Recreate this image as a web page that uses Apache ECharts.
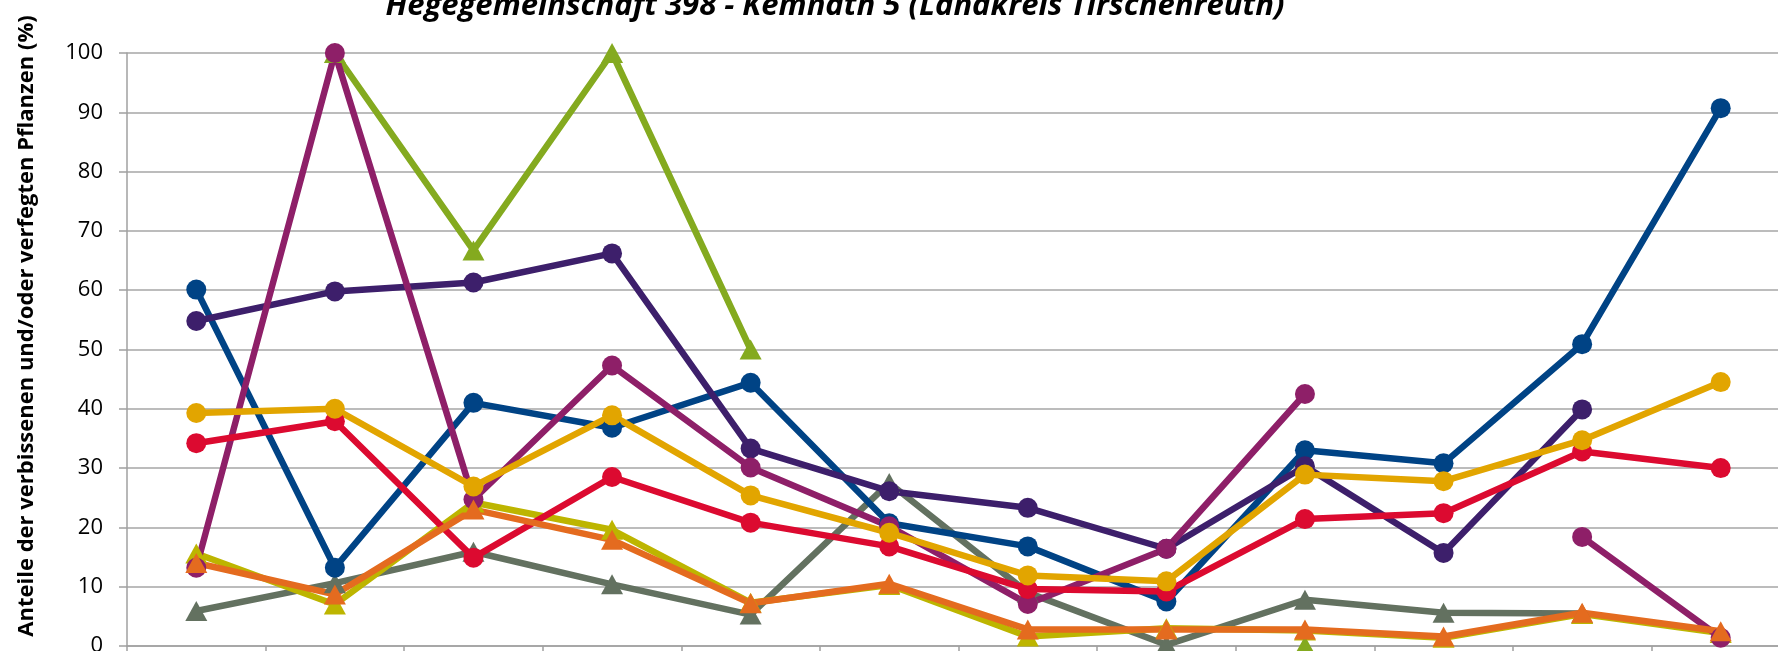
<!DOCTYPE html>
<html>
<head>
<meta charset="utf-8">
<script src="https://cdn.jsdelivr.net/npm/echarts@6/dist/echarts.min.js"></script>
<style>html,body{margin:0;padding:0;background:#fff}#c{width:1778px;height:651px}</style>
</head>
<body>
<div id="c"></div>
<script>
const categories = ['1991','1994','1997','2000','2003','2006','2009','2012','2015','2018','2021','2024'];
const yTicks = [0,10,20,30,40,50,60,70,80,90,100];
const blueVals      = [60.1, 13.2, 41.0, 36.8, 44.4, 20.7, 16.8, 7.5, 33.0, 30.8, 50.9, 90.7];
const purpleVals    = [54.8, 59.8, 61.3, 66.2, 33.3, 26.1, 23.3, 16.4, 30.3, 15.7, 39.9, null];
const magentaVals   = [13.2, 100, 24.7, 47.3, 30.1, 20.2, 7.1, 16.4, 42.5, null, 18.4, 1.4];
const redVals       = [34.2, 37.9, 14.9, 28.5, 20.8, 16.8, 9.6, 9.2, 21.4, 22.4, 32.8, 30.0];
const goldVals      = [39.3, 40.0, 26.9, 38.9, 25.4, 19.1, 11.9, 10.9, 28.9, 27.8, 34.7, 44.5];
const lightGreenVals= [null, 100, 66.7, 100, 50, null, null, null, 0, null, null, null];
const oliveVals     = [15.6, 7.0, 24.2, 19.6, 7.3, 10.3, 1.6, 3.0, 2.6, 1.4, 5.4, 2.2];
const grayVals      = [5.9, 10.6, 15.9, 10.4, 5.3, 27.5, 9.0, 0.2, 7.8, 5.6, 5.5, null];
const orangeVals    = [14.0, 8.7, 23.0, 17.9, 7.2, 10.5, 2.8, 2.8, 2.8, 1.6, 5.6, 2.5];

const titleText = 'Hegegemeinschaft 398 - Kemnath 5 (Landkreis Tirschenreuth)';
const yName = 'Anteile der verbissenen und/oder verfegten Pflanzen (%)';

function mk(name, data, color, sym) {
  return {
    name, type: 'line', data, connectNulls: false,
    symbol: sym, symbolSize: sym === 'triangle' ? [22, 20] : 20, showSymbol: true,
    lineStyle: { color, width: 6.5 }, itemStyle: { color },
    emphasis: { disabled: true }
  };
}

const chart = echarts.init(document.getElementById('c'), null, { renderer: 'canvas' });
chart.setOption({
  animation: false,
  backgroundColor: '#ffffff',
  title: {
    text: titleText, left: 830, textAlign: 'center', top: -14,
    textStyle: { fontFamily: 'Open Sans', fontStyle: 'italic', fontWeight: 'bold', fontSize: 31, color: '#000' }
  },
  graphic: [{
    type: 'text', x: 27, y: 326, rotation: Math.PI / 2,
    style: { text: yName, align: 'center', verticalAlign: 'middle', fontFamily: 'Open Sans', fontWeight: 'bold', fontSize: 22, fill: '#000' }
  }],
  grid: { left: 127, right: -12, top: 53, bottom: 5, containLabel: false, outerBoundsMode: 'none' },
  xAxis: {
    type: 'category', data: categories, boundaryGap: true,
    axisLine: { lineStyle: { color: '#a0a0a0', width: 1.5 } },
    axisTick: { show: true, interval: 0, length: 7, lineStyle: { color: '#a0a0a0', width: 1.5 } },
    axisLabel: { show: true, fontSize: 21, color: '#000', fontFamily: 'Open Sans' },
    splitLine: { show: false }
  },
  yAxis: {
    type: 'value', min: yTicks[0], max: yTicks[yTicks.length - 1], interval: 10,
    axisLine: { show: true, lineStyle: { color: '#a0a0a0', width: 1.5 } },
    axisTick: { show: true, length: 8, inside: false, lineStyle: { color: '#a0a0a0', width: 1.5 } },
    axisLabel: { margin: 24, fontSize: 22, color: '#000', fontFamily: 'Open Sans' },
    splitLine: { show: true, lineStyle: { color: '#a6a6a6', width: 1.5 } }
  },
  series: [
    mk('Grau', grayVals, '#637160', 'triangle'),
    mk('Oliv', oliveVals, '#bdb500', 'triangle'),
    mk('Hellgrün', lightGreenVals, '#84aa1f', 'triangle'),
    mk('Blau', blueVals, '#004385', 'circle'),
    mk('Violett', purpleVals, '#3d1f6b', 'circle'),
    mk('Magenta', magentaVals, '#8e1f68', 'circle'),
    mk('Rot', redVals, '#dc0a30', 'circle'),
    mk('Gold', goldVals, '#e2a500', 'circle'),
    mk('Orange', orangeVals, '#e46b1f', 'triangle')
  ]
});
</script>
</body>
</html>
